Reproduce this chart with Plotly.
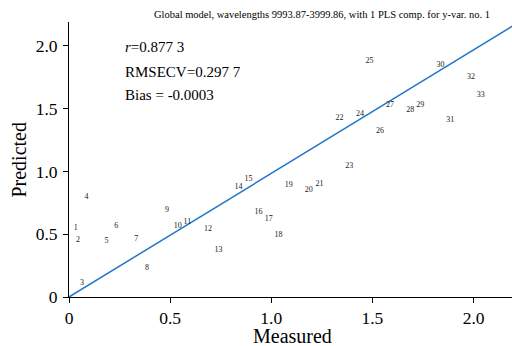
import plotly.graph_objects as go

sample_ids = [str(i) for i in range(1, 34)]
measured = [0.033, 0.044, 0.064, 0.086, 0.185, 0.234, 0.333, 0.385, 0.484, 0.538,
            0.585, 0.687, 0.739, 0.838, 0.887, 0.937, 0.988, 1.036, 1.086, 1.185,
            1.238, 1.337, 1.386, 1.439, 1.485, 1.538, 1.587, 1.687, 1.737, 1.836,
            1.885, 1.987, 2.036]
predicted = [0.549, 0.456, 0.111, 0.800, 0.448, 0.562, 0.462, 0.231, 0.695, 0.568,
             0.600, 0.544, 0.377, 0.876, 0.942, 0.674, 0.623, 0.496, 0.894, 0.854,
             0.900, 1.425, 1.045, 1.457, 1.881, 1.324, 1.531, 1.486, 1.531, 1.850,
             1.412, 1.752, 1.605]
fit_x = [0, 2.2]
fit_y = [0, 2.165]
tick_vals = [0, 0.5, 1.0, 1.5, 2.0]
tick_text = ["0", "0.5", "1.0", "1.5", "2.0"]
title_text = "Global model, wavelengths 9993.87-3999.86, with 1 PLS comp. for y-var. no. 1"
stats_lines = ["<i>r</i>=0.877 3", "RMSECV=0.297 7", "Bias = -0.0003"]

SERIF = "Liberation Serif, Times New Roman, serif"

fig = go.Figure()
fig.add_trace(go.Scatter(x=fit_x, y=fit_y, mode="lines",
                         line=dict(color="#2176c7", width=1.5), hoverinfo="skip"))
fig.add_trace(go.Scatter(x=measured, y=predicted, mode="text", text=sample_ids,
                         textposition="middle center",
                         textfont=dict(family=SERIF, size=8, color="#1a1a1a")))

axis_common = dict(
    showline=True, linecolor="black", linewidth=1, mirror=False,
    ticks="outside", ticklen=5, tickcolor="black", tickwidth=1,
    showgrid=False, zeroline=False, automargin=False,
    tickvals=tick_vals, ticktext=tick_text,
    tickfont=dict(family=SERIF, size=17.5, color="black"),
)
fig.update_xaxes(range=[0, 2.19], **axis_common)
fig.update_yaxes(range=[0, 2.19], ticklabelstandoff=2, **axis_common)

annotations = [dict(text=title_text, xref="paper", yref="paper", x=0.57, y=1.027,
                    showarrow=False, xanchor="center", yanchor="middle",
                    font=dict(family=SERIF, size=10.5, color="black")),
               dict(text="Measured", xref="paper", yref="paper", x=0.505, y=-0.14,
                    showarrow=False, xanchor="center", yanchor="middle", borderpad=0,
                    font=dict(family=SERIF, size=20, color="black")),
               dict(text="Predicted", xref="paper", yref="paper", x=-0.115, y=0.5,
                    textangle=-90, showarrow=False, xanchor="center", yanchor="middle",
                    font=dict(family=SERIF, size=20, color="black"))]
for s, yy in zip(stats_lines, [0.909, 0.82, 0.735]):
    annotations.append(dict(text=s, xref="paper", yref="paper", x=0.122, y=yy,
                            showarrow=False, xanchor="left", yanchor="middle",
                            font=dict(family=SERIF, size=15, color="black")))

fig.update_layout(
    width=512, height=346,
    margin=dict(l=69, r=0, t=22, b=49),
    paper_bgcolor="white", plot_bgcolor="white",
    showlegend=False,
    annotations=annotations,
)
fig.write_html("out.html", config={"displayModeBar": False},
               post_script="document.body.style.margin='0';document.body.style.overflow='hidden';")
